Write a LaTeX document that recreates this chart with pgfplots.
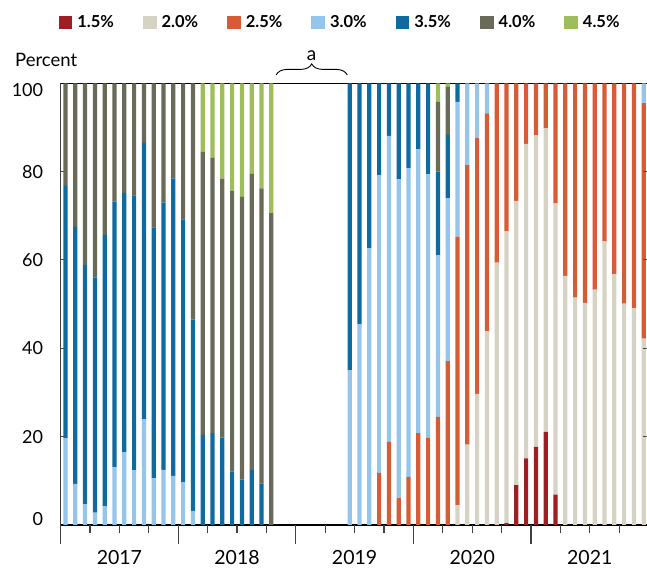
\documentclass[border=0pt]{standalone}
\usepackage{pgfplots}
\pgfplotsset{compat=1.18}
\usepackage{pgfplotstable}
\usetikzlibrary{decorations.pathreplacing}
\usepackage{fontspec}
\setmainfont{Lato}

\definecolor{c15}{HTML}{9E1F23}
\definecolor{c20}{HTML}{D6D3C4}
\definecolor{c25}{HTML}{D65C35}
\definecolor{c30}{HTML}{95C5EB}
\definecolor{c35}{HTML}{0F6A9F}
\definecolor{c40}{HTML}{6A6A58}
\definecolor{c45}{HTML}{9DBE5A}

\pgfplotstableread{
x r15 r20 r25 r30 r35 r40 r45
0.5 0 0 0 19.6 57.2 23.2 0
1.5 0 0 0 9.3 58.2 32.5 0
2.5 0 0 0 4.7 54.2 41.1 0
3.5 0 0 0 2.8 53.2 44.0 0
4.5 0 0 0 4.3 61.4 34.3 0
5.5 0 0 0 13.1 60.1 26.8 0
6.5 0 0 0 16.5 58.7 24.8 0
7.5 0 0 0 12.4 62.2 25.4 0
8.5 0 0 0 23.9 62.6 13.5 0
9.5 0 0 0 10.6 56.8 32.6 0
10.5 0 0 0 12.5 60.5 27.0 0
11.5 0 0 0 11.1 67.4 21.5 0
12.5 0 0 0 9.7 59.5 30.8 0
13.5 0 0 0 3.2 43.3 53.5 0
14.5 0 0 0 0 20.4 64.1 15.5
15.5 0 0 0 0 20.8 62.3 16.9
16.5 0 0 0 0 19.8 58.6 21.6
17.5 0 0 0 0 12.1 63.6 24.3
18.5 0 0 0 0 10.3 64.0 25.7
19.5 0 0 0 0 12.5 67.0 20.5
20.5 0 0 0 0 9.4 66.8 23.8
21.5 0 0 0 0 0 70.6 29.4
29.5 0 0 0 35.0 65.0 0 0
30.5 0 0 0 45.5 54.5 0 0
31.5 0 0 0 62.6 37.4 0 0
32.5 0 0 11.8 67.4 20.8 0 0
33.5 0 0 18.8 69.3 11.9 0 0
34.5 0 0 6.1 72.2 21.7 0 0
35.5 0 0 10.9 69.9 19.2 0 0
36.5 0 0 20.8 64.3 14.9 0 0
37.5 0 0 19.7 59.7 20.6 0 0
38.5 0 0 24.5 36.6 18.9 15.8 4.2
39.5 0 0 37.1 36.9 14.3 10.9 0.8
40.5 0 4.5 60.8 30.5 4.2 0 0
41.5 0 18.2 63.3 18.5 0 0 0
42.5 0 29.7 57.9 12.4 0 0 0
43.5 0 43.9 49.3 6.8 0 0 0
44.5 0 59.4 40.6 0 0 0 0
45.5 0.4 66.1 33.5 0 0 0 0
46.5 9.0 64.4 26.6 0 0 0 0
47.5 15.1 71.2 13.7 0 0 0 0
48.5 17.7 70.5 11.8 0 0 0 0
49.5 21.1 68.7 10.2 0 0 0 0
50.5 6.9 65.9 27.2 0 0 0 0
51.5 0 56.4 43.6 0 0 0 0
52.5 0 51.5 48.5 0 0 0 0
53.5 0 50.3 49.7 0 0 0 0
54.5 0 53.3 46.7 0 0 0 0
55.5 0 64.2 35.8 0 0 0 0
56.5 0 56.8 43.2 0 0 0 0
57.5 0 50.1 49.9 0 0 0 0
58.5 0 49.1 50.9 0 0 0 0
59.5 0 42.2 53.3 4.5 0 0 0
}\datatable

\pgfplotsset{
  sq/.style={draw=none, fill=#1,
    legend image code/.code={\fill[#1] (0pt,-6.6pt) rectangle (13.7pt,6.6pt);}},
}

\begin{document}
\begin{tikzpicture}
\begin{axis}[
  scale only axis, width=588pt, height=441.7pt,
  xmin=0, xmax=60, ymin=0, ymax=100,
  ybar stacked, bar width=4.2pt,
  axis x line*=bottom, axis y line*=left,
  x axis line style={-, black, line width=1.6pt},
  y axis line style={-, black!75, line width=0.8pt},
  xtick=\empty,
  ytick={0,20,40,60,80,100},
  yticklabels={\raisebox{6pt}[\height][\depth]{0},20,40,60,80,\raisebox{-6.4pt}[\height][\depth]{100}},
  tick align=inside,
  major tick length=6pt,
  y tick style={black!70, line width=1pt},
  yticklabel style={font=\fontsize{18}{20}\selectfont, inner sep=0pt, xshift=-17.3pt, anchor=east},
  clip=false,
  legend columns=7,
  legend style={draw=none, fill=none, at={(-0.0034,1.1377)}, anchor=west,
    inner sep=0pt, outer sep=0pt,
    font=\fontsize{16.5}{18}\selectfont\bfseries,
    nodes={inner sep=0pt},
    /tikz/every even column/.append style={column sep=29pt},
    /tikz/every odd column/.append style={column sep=5pt}},
]
\addplot[sq=c15] table[x=x, y=r15] {\datatable};
\addplot[sq=c20] table[x=x, y=r20] {\datatable};
\addplot[sq=c25] table[x=x, y=r25] {\datatable};
\addplot[sq=c30] table[x=x, y=r30] {\datatable};
\addplot[sq=c35] table[x=x, y=r35] {\datatable};
\addplot[sq=c40] table[x=x, y=r40] {\datatable};
\addplot[sq=c45] table[x=x, y=r45] {\datatable};
\legend{1.5\%, 2.0\%, 2.5\%, 3.0\%, 3.5\%, 4.0\%, 4.5\%}

\draw[black, line width=1pt] (rel axis cs:0,1) -- (rel axis cs:1,1);
\draw[black, line width=0.9pt, decorate, decoration={brace, amplitude=11pt}]
  (axis cs:22,101.9) -- (axis cs:29.25,101.9);
\node[anchor=base, font=\fontsize{19}{21}\selectfont] at (axis cs:25.6,105.1) {a};
\node[anchor=base west, font=\fontsize{18.5}{21}\selectfont] at (axis cs:-4.99,103.76) {Percent};
\node[anchor=base, font=\fontsize{19.5}{22}\selectfont] at (axis cs:6,-8.83) {2017};
\node[anchor=base, font=\fontsize{19.5}{22}\selectfont] at (axis cs:18,-8.83) {2018};
\node[anchor=base, font=\fontsize{19.5}{22}\selectfont] at (axis cs:30,-8.83) {2019};
\node[anchor=base, font=\fontsize{19.5}{22}\selectfont] at (axis cs:42,-8.83) {2020};
\node[anchor=base, font=\fontsize{19.5}{22}\selectfont] at (axis cs:54,-8.83) {2021};
\end{axis}

\begin{axis}[
  scale only axis, width=588pt, height=441.7pt,
  xmin=0, xmax=60, ymin=0, ymax=100,
  axis x line*=bottom, axis y line=none,
  x axis line style={draw=none},
  xtick={0,12,24,36,48,60}, xticklabels={},
  minor xtick={3,6,9,15,18,21,27,30,33,39,42,45,51,54,57},
  tick align=outside,
  major tick length=19pt, minor tick length=8pt,
  every tick/.style={black!75, line width=1.2pt},
]
\end{axis}

\begin{axis}[
  scale only axis, width=588pt, height=441.7pt,
  xmin=0, xmax=60, ymin=0, ymax=100,
  axis y line*=right, axis x line=none,
  y axis line style={draw=none},
  ytick={20,40,60,80}, yticklabels={},
  tick align=inside, major tick length=6pt,
  y tick style={black!70, line width=1pt},
]
\end{axis}

\pgfresetboundingbox
\path (-60.6pt,-44pt) rectangle (586.4pt,525pt);
\end{tikzpicture}
\end{document}
